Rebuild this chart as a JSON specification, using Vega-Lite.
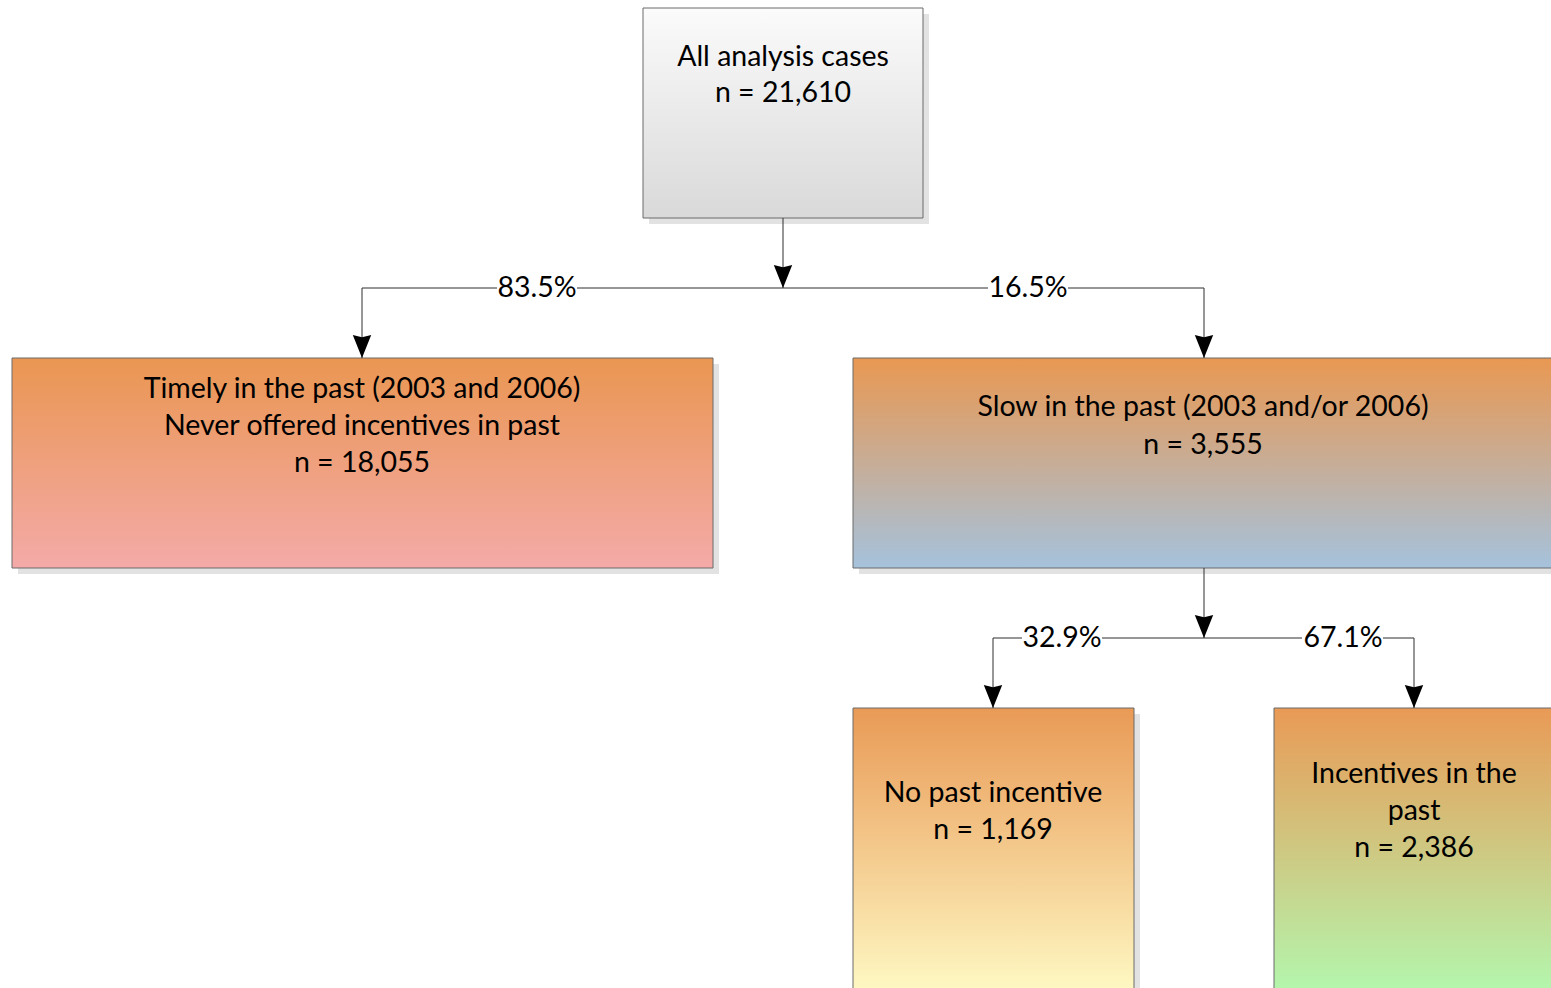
{
  "$schema": "https://vega.github.io/schema/vega-lite/v6.json",
  "width": 1551,
  "height": 988,
  "autosize": {"type": "fit", "contains": "padding"},
  "padding": 0,
  "background": "white",
  "config": {"view": {"stroke": null}},
  "datasets": {
    "boxes": [
      {"id": "A", "x1": 643, "x2": 923, "y1": 8, "y2": 218},
      {"id": "B", "x1": 12, "x2": 713, "y1": 358, "y2": 568},
      {"id": "C", "x1": 853, "x2": 1565, "y1": 358, "y2": 568},
      {"id": "D", "x1": 853, "x2": 1134, "y1": 708, "y2": 1000},
      {"id": "E", "x1": 1274, "x2": 1565, "y1": 708, "y2": 1000}
    ],
    "segments": [
      {"x1": 783, "y1": 218, "x2": 783, "y2": 288},
      {"x1": 362, "y1": 288, "x2": 497, "y2": 288},
      {"x1": 577, "y1": 288, "x2": 988, "y2": 288},
      {"x1": 1068, "y1": 288, "x2": 1204, "y2": 288},
      {"x1": 362, "y1": 288, "x2": 362, "y2": 358},
      {"x1": 1204, "y1": 288, "x2": 1204, "y2": 358},
      {"x1": 1204, "y1": 568, "x2": 1204, "y2": 638},
      {"x1": 993, "y1": 638, "x2": 1022, "y2": 638},
      {"x1": 1102, "y1": 638, "x2": 1302, "y2": 638},
      {"x1": 1383, "y1": 638, "x2": 1414, "y2": 638},
      {"x1": 993, "y1": 638, "x2": 993, "y2": 708},
      {"x1": 1414, "y1": 638, "x2": 1414, "y2": 708}
    ],
    "arrows": [
      {"x": 783, "y": 288},
      {"x": 362, "y": 358},
      {"x": 1204, "y": 358},
      {"x": 1204, "y": 638},
      {"x": 993, "y": 708},
      {"x": 1414, "y": 708}
    ],
    "texts": [
      {"x": 783, "y": 57, "label": "All analysis cases"},
      {"x": 783, "y": 93, "label": "n = 21,610"},
      {"x": 362, "y": 389, "label": "Timely in the past (2003 and 2006)"},
      {"x": 362, "y": 426, "label": "Never offered incentives in past"},
      {"x": 362, "y": 463, "label": "n = 18,055"},
      {"x": 1203, "y": 407, "label": "Slow in the past (2003 and/or 2006)"},
      {"x": 1203, "y": 445, "label": "n = 3,555"},
      {"x": 993, "y": 793, "label": "No past incentive"},
      {"x": 993, "y": 830, "label": "n = 1,169"},
      {"x": 1414, "y": 774, "label": "Incentives in the"},
      {"x": 1414, "y": 811, "label": "past"},
      {"x": 1414, "y": 848, "label": "n = 2,386"},
      {"x": 537, "y": 288, "label": "83.5%"},
      {"x": 1028, "y": 288, "label": "16.5%"},
      {"x": 1062, "y": 638, "label": "32.9%"},
      {"x": 1343, "y": 638, "label": "67.1%"}
    ]
  },
  "layer": [
    {
      "data": {"name": "boxes"},
      "mark": {"type": "rect", "color": "#e2e2e2", "xOffset": 6, "x2Offset": 6, "yOffset": 6, "y2Offset": 6, "clip": true},
      "encoding": {
        "x": {"field": "x1", "type": "quantitative", "scale": {"domain": [0, 1551], "nice": false, "zero": false}, "axis": null},
        "x2": {"field": "x2"},
        "y": {"field": "y1", "type": "quantitative", "scale": {"domain": [0, 988], "nice": false, "zero": false, "reverse": true}, "axis": null},
        "y2": {"field": "y2"}
      }
    },
    {
      "data": {"name": "boxes"},
      "transform": [{"filter": "datum.id === 'A'"}],
      "mark": {"type": "rect", "clip": true, "stroke": "#6a6a6a", "strokeWidth": 1,
        "fill": {"gradient": "linear", "x1": 0, "y1": 0, "x2": 0, "y2": 1, "stops": [{"offset": 0, "color": "#fbfbfb"}, {"offset": 1, "color": "#d9d9d9"}]}},
      "encoding": {"x": {"field": "x1", "type": "quantitative"}, "x2": {"field": "x2"}, "y": {"field": "y1", "type": "quantitative"}, "y2": {"field": "y2"}}
    },
    {
      "data": {"name": "boxes"},
      "transform": [{"filter": "datum.id === 'B'"}],
      "mark": {"type": "rect", "clip": true, "stroke": "#6a6a6a", "strokeWidth": 1,
        "fill": {"gradient": "linear", "x1": 0, "y1": 0, "x2": 0, "y2": 1, "stops": [{"offset": 0, "color": "#ea9652"}, {"offset": 1, "color": "#f4aaa8"}]}},
      "encoding": {"x": {"field": "x1", "type": "quantitative"}, "x2": {"field": "x2"}, "y": {"field": "y1", "type": "quantitative"}, "y2": {"field": "y2"}}
    },
    {
      "data": {"name": "boxes"},
      "transform": [{"filter": "datum.id === 'C'"}],
      "mark": {"type": "rect", "clip": true, "stroke": "#6a6a6a", "strokeWidth": 1,
        "fill": {"gradient": "linear", "x1": 0, "y1": 0, "x2": 0, "y2": 1, "stops": [{"offset": 0, "color": "#e99852"}, {"offset": 1, "color": "#a5c2dc"}]}},
      "encoding": {"x": {"field": "x1", "type": "quantitative"}, "x2": {"field": "x2"}, "y": {"field": "y1", "type": "quantitative"}, "y2": {"field": "y2"}}
    },
    {
      "data": {"name": "boxes"},
      "transform": [{"filter": "datum.id === 'D'"}],
      "mark": {"type": "rect", "clip": true, "stroke": "#6a6a6a", "strokeWidth": 1,
        "fill": {"gradient": "linear", "x1": 0, "y1": 0, "x2": 0, "y2": 1, "stops": [{"offset": 0, "color": "#e99a56"}, {"offset": 1, "color": "#fffbc6"}]}},
      "encoding": {"x": {"field": "x1", "type": "quantitative"}, "x2": {"field": "x2"}, "y": {"field": "y1", "type": "quantitative"}, "y2": {"field": "y2"}}
    },
    {
      "data": {"name": "boxes"},
      "transform": [{"filter": "datum.id === 'E'"}],
      "mark": {"type": "rect", "clip": true, "stroke": "#6a6a6a", "strokeWidth": 1,
        "fill": {"gradient": "linear", "x1": 0, "y1": 0, "x2": 0, "y2": 1, "stops": [{"offset": 0, "color": "#e99a56"}, {"offset": 1, "color": "#b2f9b0"}]}},
      "encoding": {"x": {"field": "x1", "type": "quantitative"}, "x2": {"field": "x2"}, "y": {"field": "y1", "type": "quantitative"}, "y2": {"field": "y2"}}
    },
    {
      "data": {"name": "segments"},
      "mark": {"type": "rule", "color": "#2e2e2e", "strokeWidth": 1},
      "encoding": {"x": {"field": "x1", "type": "quantitative"}, "x2": {"field": "x2"}, "y": {"field": "y1", "type": "quantitative"}, "y2": {"field": "y2"}}
    },
    {
      "data": {"name": "arrows"},
      "mark": {"type": "point", "filled": true, "color": "black", "opacity": 1, "strokeWidth": 0, "size": 529,
        "shape": "M0,0L-0.8,-2L0,-1.8L0.8,-2Z"},
      "encoding": {"x": {"field": "x", "type": "quantitative"}, "y": {"field": "y", "type": "quantitative"}}
    },
    {
      "data": {"name": "texts"},
      "mark": {"type": "text", "font": "Lato", "fontSize": 28.5, "color": "#000000", "align": "center", "baseline": "middle"},
      "encoding": {"x": {"field": "x", "type": "quantitative"}, "y": {"field": "y", "type": "quantitative"}, "text": {"field": "label"}}
    }
  ]
}
